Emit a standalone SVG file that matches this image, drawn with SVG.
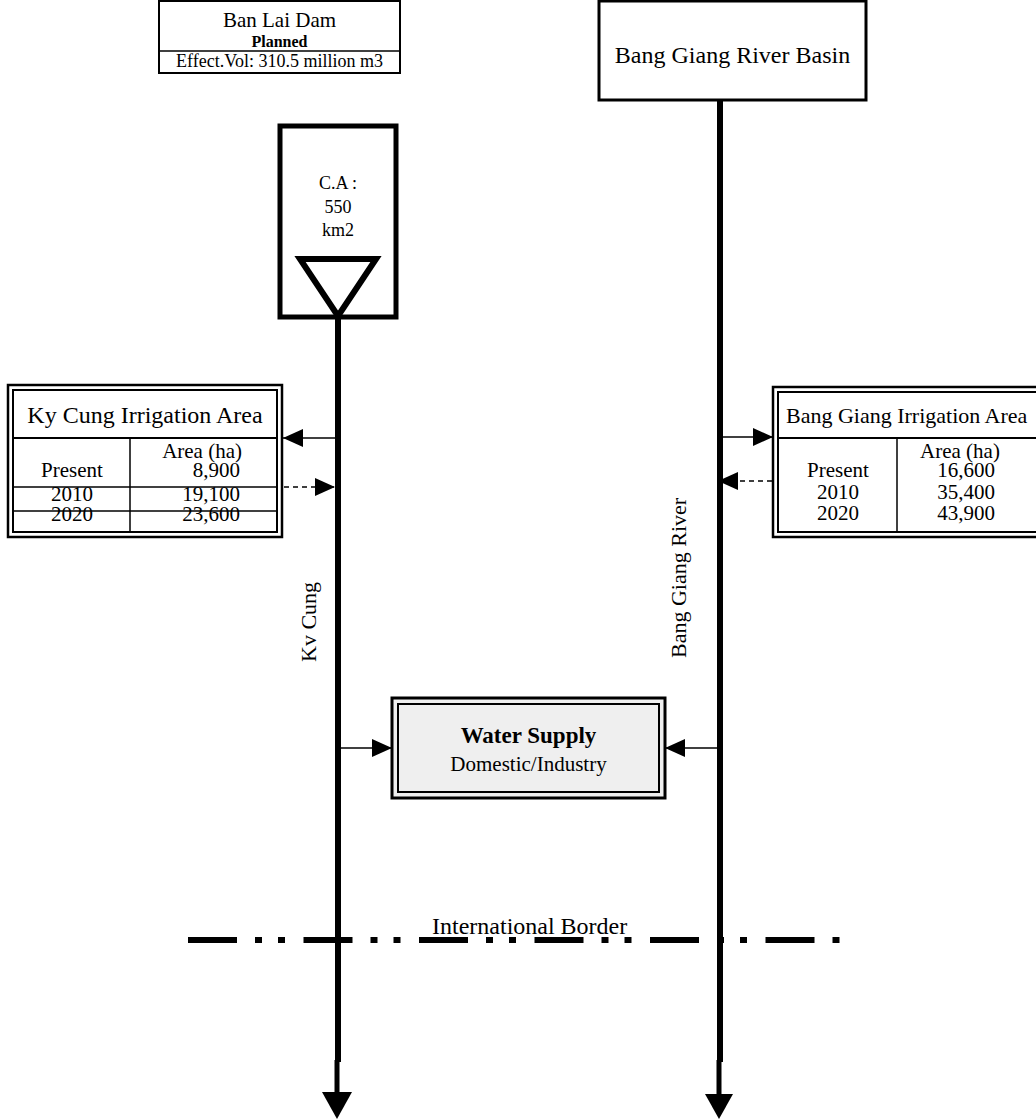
<svg xmlns="http://www.w3.org/2000/svg" width="1036" height="1119" viewBox="0 0 1036 1119">
<style>
text{font-family:"Liberation Serif","Times New Roman",serif;fill:#000}
.c{text-anchor:middle}
.r{text-anchor:end}
.b{font-weight:bold}
.box{fill:#fff;stroke:#000}
.thin{stroke:#000;stroke-width:1.5;fill:none}
</style>
<defs>
<marker id="ah" viewBox="0 0 20 18" refX="20" refY="9" markerWidth="20" markerHeight="18" markerUnits="userSpaceOnUse" orient="auto"><path d="M0,0 L20,9 L0,18 Z" fill="#000"/></marker>
</defs>
<g id="connectors">
<line x1="338" y1="318" x2="338" y2="1062" stroke="#000" stroke-width="6"/>
<line x1="337" y1="1060" x2="337" y2="1094" stroke="#000" stroke-width="5"/>
<path d="M322,1092 L352,1092 L337,1119 Z" fill="#000"/>
<line x1="720" y1="100" x2="720" y2="1062" stroke="#000" stroke-width="6"/>
<line x1="719" y1="1060" x2="719" y2="1096" stroke="#000" stroke-width="5"/>
<path d="M705,1094 L733,1094 L719,1119 Z" fill="#000"/>
<line x1="335" y1="438" x2="283" y2="438" stroke="#000" stroke-width="1.5" marker-end="url(#ah)"/>
<line x1="284" y1="487" x2="335" y2="487" stroke="#000" stroke-width="1.5" stroke-dasharray="5 4" marker-end="url(#ah)"/>
<line x1="723" y1="437" x2="773" y2="437" stroke="#000" stroke-width="1.5" marker-end="url(#ah)"/>
<line x1="772" y1="481" x2="718" y2="481" stroke="#000" stroke-width="1.5" stroke-dasharray="5 4" marker-end="url(#ah)"/>
<line x1="341" y1="748" x2="392" y2="748" stroke="#000" stroke-width="1.5" marker-end="url(#ah)"/>
<line x1="717" y1="748" x2="665" y2="748" stroke="#000" stroke-width="1.5" marker-end="url(#ah)"/>
</g>
<g id="ban-lai-dam">
<rect class="box" x="159" y="1" width="241" height="72" stroke-width="2"/>
<line x1="159" y1="51" x2="400" y2="51" stroke="#000" stroke-width="1.5"/>
<text class="c" x="279.5" y="27" font-size="21">Ban Lai Dam</text>
<text class="c b" x="279.5" y="47" font-size="16">Planned</text>
<text class="c" x="279.5" y="67" font-size="18">Effect.Vol: 310.5 million m3</text>
</g>
<g id="bang-giang-basin">
<rect class="box" x="599" y="1" width="267" height="99" stroke-width="3"/>
<text class="c" x="732.5" y="63" font-size="24">Bang Giang River Basin</text>
</g>
<g id="dam">
<rect class="box" x="280" y="126" width="116" height="191" stroke-width="5"/>
<text class="c" x="338" y="189" font-size="18">C.A :</text>
<text class="c" x="338" y="213" font-size="18">550</text>
<text class="c" x="338" y="236" font-size="18">km2</text>
<path d="M300,259 L376,259 L338,316 Z" fill="#fff" stroke="#000" stroke-width="6" stroke-linejoin="miter"/>
</g>
<g id="ky-cung-irrigation">
<rect class="box" x="8" y="385" width="274" height="152" stroke-width="2.5"/>
<rect x="13" y="390" width="264" height="142" fill="none" stroke="#000" stroke-width="2"/>
<text class="c" x="145" y="423" font-size="24">Ky Cung Irrigation Area</text>
<line x1="13" y1="438" x2="277" y2="438" stroke="#000" stroke-width="2"/>
<line class="thin" x1="130" y1="438" x2="130" y2="532"/>
<line class="thin" x1="13" y1="487" x2="277" y2="487"/>
<line class="thin" x1="13" y1="511" x2="277" y2="511"/>
<text class="r" x="242" y="458" font-size="21">Area (ha)</text>
<text class="c" x="72" y="477" font-size="21">Present</text>
<text class="r" x="240" y="477" font-size="21">8,900</text>
<text class="c" x="72" y="501" font-size="21">2010</text>
<text class="r" x="240" y="501" font-size="21">19,100</text>
<text class="c" x="72" y="521" font-size="21">2020</text>
<text class="r" x="240" y="521" font-size="21">23,600</text>
</g>
<g id="bang-giang-irrigation">
<rect class="box" x="773" y="387" width="280" height="150" stroke-width="2.5"/>
<rect x="778" y="392" width="270" height="140" fill="none" stroke="#000" stroke-width="2"/>
<text x="786" y="423" font-size="22">Bang Giang Irrigation Area</text>
<line x1="778" y1="438" x2="1036" y2="438" stroke="#000" stroke-width="2"/>
<line class="thin" x1="897" y1="438" x2="897" y2="532"/>
<text class="c" x="960" y="458" font-size="21">Area (ha)</text>
<text class="c" x="838" y="477" font-size="21">Present</text>
<text class="c" x="966" y="477" font-size="21">16,600</text>
<text class="c" x="838" y="499" font-size="21">2010</text>
<text class="c" x="966" y="499" font-size="21">35,400</text>
<text class="c" x="838" y="520" font-size="21">2020</text>
<text class="c" x="966" y="520" font-size="21">43,900</text>
</g>
<g id="river-labels">
<text transform="translate(316,662) rotate(-90)" font-size="22">Kv Cung</text>
<text transform="translate(686,658) rotate(-90)" font-size="22">Bang Giang River</text>
</g>
<g id="water-supply">
<rect x="392" y="698" width="273" height="100" fill="#efefef" stroke="#000" stroke-width="3"/>
<rect x="398" y="704" width="261" height="88" fill="none" stroke="#000" stroke-width="2"/>
<text class="c b" x="528.5" y="743" font-size="23">Water Supply</text>
<text class="c" x="528.5" y="771" font-size="21">Domestic/Industry</text>
</g>
<g id="border">
<line x1="188" y1="940" x2="840" y2="940" stroke="#000" stroke-width="6" stroke-dasharray="49 18 7 16 7 18.5"/>
<text x="432" y="934" font-size="24">International Border</text>
</g>
</svg>
